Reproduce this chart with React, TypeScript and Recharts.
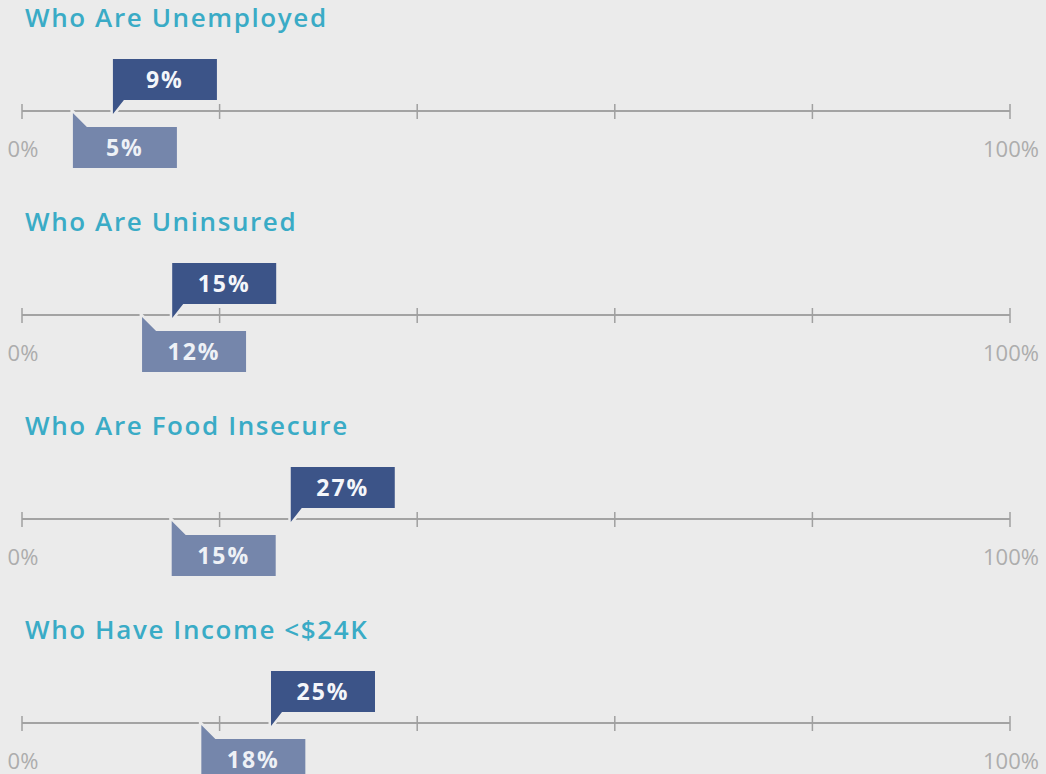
import React from 'react';
import { ScatterChart, Scatter, XAxis, YAxis } from 'recharts';

const categories = ['Who Are Unemployed', 'Who Are Uninsured', 'Who Are Food Insecure', 'Who Have Income <$24K'];
const darkValues = [9, 15, 27, 25];
const lightValues = [5, 12, 15, 18];
const tickValues = [0, 20, 40, 60, 80, 100];
const tickLabels: Record<number, string> = { 0: '0%', 100: '100%' };

const BG = '#ebebeb';
const DARK = '#3c5488';
const LIGHT = '#7586ab';
const TEAL = '#3aabc6';
const W = 1046;
const PANEL_H = 204;

const DarkFlag = (props: any) => {
  const { cx, cy, payload } = props;
  const x = cx + 2;
  const path = `M${x},${cy + 3} L${x},${cy - 52} L${x + 104},${cy - 52} L${x + 104},${cy - 11} L${x + 11},${cy - 11} Z`;
  return (
    <g>
      <path d={path} fill={DARK} stroke={BG} strokeWidth={5} paintOrder="stroke" strokeLinejoin="miter" />
      <text x={x + 52} y={cy - 23} textAnchor="middle" fill="#f4f6fa" fontFamily="'Open Sans', sans-serif" fontWeight={700} fontSize={23} letterSpacing={2}>
        {payload.label}
      </text>
    </g>
  );
};

const LightFlag = (props: any) => {
  const { cx, cy, payload } = props;
  const x = cx + 1.5;
  const path = `M${x},${cy + 2} L${x + 14},${cy + 16} L${x + 104},${cy + 16} L${x + 104},${cy + 57} L${x},${cy + 57} Z`;
  return (
    <g>
      <path d={path} fill={LIGHT} stroke={BG} strokeWidth={5} paintOrder="stroke" strokeLinejoin="miter" />
      <text x={x + 52} y={cy + 45} textAnchor="middle" fill="#eef1f6" fontFamily="'Open Sans', sans-serif" fontWeight={700} fontSize={23} letterSpacing={2}>
        {payload.label}
      </text>
    </g>
  );
};

const AxisTick = (props: any) => {
  const { x, y, payload } = props;
  const label = tickLabels[payload.value];
  return (
    <g>
      <line x1={x} x2={x} y1={y - 7} y2={y + 8} stroke="#a0a0a0" strokeWidth={1.5} />
      {label ? (
        <text x={x + 1} y={y + 46} textAnchor="middle" fill="#adadad" fontFamily="'Open Sans', sans-serif" fontSize={22}>
          {label}
        </text>
      ) : null}
    </g>
  );
};

const Panel = ({ index }: { index: number }) => {
  const dark = [{ x: darkValues[index], y: 0, label: `${darkValues[index]}%` }];
  const light = [{ x: lightValues[index], y: 0, label: `${lightValues[index]}%` }];
  return (
    <div style={{ position: 'absolute', left: 0, top: index * PANEL_H, width: W, height: PANEL_H }}>
      <div
        style={{
          position: 'absolute',
          left: 25,
          top: -1,
          fontFamily: "'Open Sans', sans-serif",
          fontWeight: 600,
          fontSize: 26,
          letterSpacing: 1.6,
          color: TEAL,
          whiteSpace: 'nowrap',
        }}
      >
        {categories[index]}
      </div>
      <ScatterChart width={W} height={PANEL_H} margin={{ top: 0, right: 36, bottom: 0, left: 22 }}>
        <XAxis
          type="number"
          dataKey="x"
          domain={[0, 100]}
          ticks={tickValues}
          interval={0}
          height={93}
          tickSize={0}
          tickMargin={0}
          tickLine={false}
          axisLine={{ stroke: '#a3a3a3', strokeWidth: 2 }}
          tick={<AxisTick />}
        />
        <YAxis type="number" dataKey="y" domain={[0, 1]} hide />
        <Scatter data={dark} shape={<DarkFlag />} isAnimationActive={false} />
        <Scatter data={light} shape={<LightFlag />} isAnimationActive={false} />
      </ScatterChart>
    </div>
  );
};

export default function App() {
  return (
    <div style={{ position: 'absolute', left: 0, top: 0, width: W, height: 774, background: BG, overflow: 'hidden' }}>
      {categories.map((_, i) => (
        <Panel key={i} index={i} />
      ))}
    </div>
  );
}
